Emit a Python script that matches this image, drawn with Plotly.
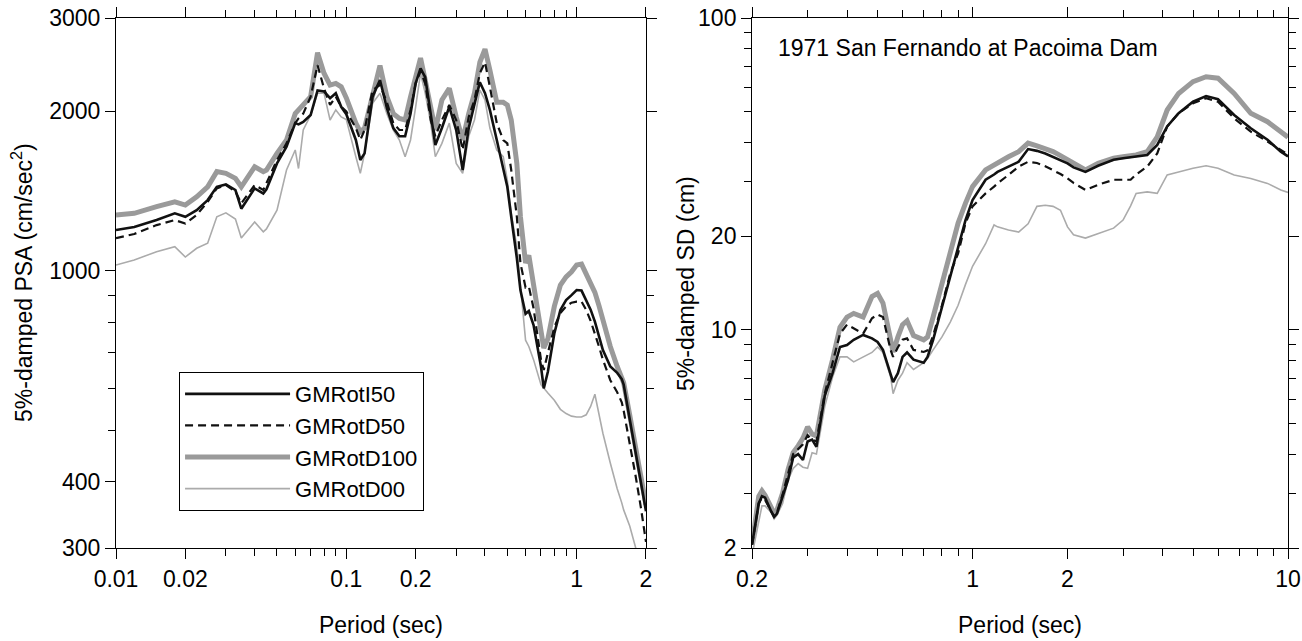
import math
import plotly.graph_objects as go

# ---- left panel: 5%-damped PSA (cm/sec^2) ----
psa_period = [0.01, 0.012, 0.015, 0.018, 0.02, 0.0224, 0.025, 0.0274, 0.03, 0.033,
              0.035, 0.04, 0.0436, 0.045, 0.05, 0.055, 0.06, 0.062, 0.065, 0.07,
              0.075, 0.08, 0.085, 0.09, 0.095, 0.1, 0.11, 0.115, 0.12, 0.13,
              0.14, 0.15, 0.16, 0.17, 0.18, 0.19, 0.2, 0.21, 0.22, 0.2325,
              0.2435, 0.26, 0.28, 0.3, 0.32, 0.34, 0.36, 0.38, 0.4, 0.42,
              0.45, 0.48, 0.5, 0.52, 0.55, 0.57, 0.6, 0.62, 0.65, 0.7,
              0.72, 0.75, 0.8, 0.85, 0.9, 0.95, 1.0, 1.05, 1.1, 1.15,
              1.2, 1.25, 1.3, 1.4, 1.5, 1.57, 1.6, 1.7, 1.8, 1.9,
              2.0]

psa_rotI50 = [1194, 1210, 1247, 1284, 1265, 1302, 1360, 1441, 1456, 1421,
              1310, 1431, 1400, 1425, 1595, 1715, 1900, 1890, 1910, 1968,
              2190, 2180, 2117, 2164, 2040, 1975, 1766, 1619, 1666, 2131,
              2291, 2027, 1860, 1795, 1795, 1980, 2258, 2410, 2320, 1952,
              1728, 1860, 2040, 1844, 1550, 1860, 2071, 2270, 2164, 2012,
              1766, 1550, 1441, 1265, 1057, 920, 830, 840, 790, 660,
              600, 645, 762, 844, 881, 900, 920, 918, 881, 845,
              802, 755, 709, 660, 642, 625, 610, 525, 456, 403,
              352]

psa_rotD50 = [1153, 1174, 1220, 1247, 1228, 1275, 1350, 1431, 1452, 1412,
              1341, 1452, 1421, 1463, 1619, 1740, 1900, 1940, 1980, 2131,
              2446, 2210, 2056, 2131, 2040, 2000, 1860, 1766, 1844, 2194,
              2242, 2080, 1900, 1844, 1844, 2012, 2258, 2380, 2258, 1926,
              1795, 1926, 2056, 1926, 1691, 1952, 2101, 2360, 2475, 2225,
              1900, 1766, 1740, 1550, 1265, 1035, 930, 935, 850, 680,
              650, 700, 783, 833, 857, 871, 875, 875, 844, 805,
              762, 720, 680, 622, 590, 565, 545, 475, 412, 358,
              308]

psa_rotD100 = [1275, 1284, 1322, 1350, 1331, 1380, 1441, 1539, 1528, 1495,
               1441, 1572, 1539, 1550, 1666, 1766, 1980, 2012, 2056, 2131,
               2580, 2360, 2242, 2258, 2225, 2120, 1900, 1830, 1860, 2131,
               2440, 2131, 1980, 1939, 1926, 2131, 2320, 2520, 2291, 2012,
               1844, 2101, 2210, 1952, 1766, 1980, 2164, 2475, 2620, 2393,
               2080, 2080, 2056, 1926, 1595, 1265, 1035, 1070, 950, 770,
               715, 745, 857, 940, 974, 996, 1026, 1030, 985, 950,
               911, 860, 808, 720, 660, 632, 615, 535, 465, 410,
               362]

psa_rotD00 = [1026, 1048, 1087, 1111, 1062, 1103, 1128, 1265, 1287, 1253,
              1153, 1237, 1185, 1200, 1302, 1550, 1691, 1560, 1844, 1968,
              2164, 2164, 1926, 2012, 1952, 1930, 1642, 1528, 1666, 2071,
              2164, 1980, 1844, 1766, 1642, 1766, 2040, 2360, 2164, 1900,
              1642, 1740, 1900, 1595, 1528, 1795, 1926, 2194, 2101, 1860,
              1691, 1642, 1484, 1284, 1111, 950, 740, 720, 680, 610,
              600, 588, 570, 548, 538, 532, 530, 530, 535, 555,
              585, 540, 494, 434, 388, 365, 354, 330, 300, 275,
              255]

# ---- right panel: 5%-damped SD (cm) ----
sd_period = [0.2, 0.21, 0.215, 0.22, 0.23, 0.235, 0.24, 0.25, 0.26, 0.27,
             0.28, 0.29, 0.3, 0.31, 0.32, 0.34, 0.36, 0.38, 0.4, 0.42,
             0.45, 0.48, 0.5, 0.52, 0.55, 0.56, 0.58, 0.6, 0.62, 0.65,
             0.7, 0.72, 0.75, 0.8, 0.85, 0.9, 0.95, 1.0, 1.1, 1.17,
             1.2, 1.3, 1.4, 1.5, 1.6, 1.7, 1.8, 1.9, 2.0, 2.09,
             2.28, 2.5, 2.8, 3.0, 3.17, 3.3, 3.58, 3.85, 4.14, 4.5,
             5.0, 5.5, 6.0, 6.75, 7.62, 8.61, 9.49, 10.0]

sd_rotI50 = [2.05, 2.78, 2.93, 2.9, 2.62, 2.52, 2.58, 2.93, 3.3, 3.9,
             4.0, 3.83, 4.39, 4.45, 4.22, 6.15, 7.27, 8.82, 8.95, 9.3,
             9.64, 9.4, 9.15, 8.63, 7.27, 6.8, 7.27, 8.2, 8.47, 8.03,
             7.85, 8.2, 9.3, 11.8, 15.0, 18.5, 22.5, 26.1, 30.3, 31.5,
             32.1, 33.4, 34.6, 38.0, 37.5, 36.8, 35.9, 35.0, 34.2, 33.2,
             32.1, 33.6, 35.1, 35.5, 35.8, 35.9, 36.4, 39.2, 44.9, 49.5,
             53.9, 56.2, 54.9, 48.9, 44.3, 40.7, 37.3, 36.0]

sd_rotD50 = [2.05, 2.78, 2.9, 2.85, 2.62, 2.52, 2.6, 2.97, 3.45, 4.0,
             4.15, 4.3, 4.6, 4.45, 4.39, 6.25, 7.85, 9.73, 10.4, 10.1,
             9.73, 10.9, 11.2, 11.0, 8.63, 8.2, 8.8, 9.3, 9.4, 8.63,
             8.5, 8.6, 9.6, 12.0, 15.2, 17.6, 22.0, 24.9, 27.4, 28.8,
             29.5, 31.4, 33.4, 34.6, 34.3, 33.5, 32.6, 31.6, 30.6, 29.6,
             28.1, 29.2, 30.3, 30.3, 30.3, 31.5, 33.4, 36.8, 44.9, 49.5,
             53.3, 55.3, 53.9, 47.7, 43.2, 40.2, 37.8, 36.5]

sd_rotD100 = [2.05, 2.93, 3.05, 2.95, 2.7, 2.58, 2.65, 3.0, 3.56, 4.04,
              4.25, 4.5, 4.89, 4.64, 4.57, 6.42, 8.03, 10.2, 11.0, 11.3,
              11.0, 12.8, 13.1, 12.2, 9.3, 8.5, 9.5, 10.4, 10.7, 9.6,
              9.3, 9.5, 11.0, 14.0, 18.0, 22.0, 25.5, 28.8, 32.6, 33.8,
              34.6, 35.9, 37.3, 39.7, 38.9, 38.2, 37.3, 36.2, 35.1, 34.0,
              32.6, 34.2, 35.5, 35.9, 36.2, 36.4, 37.3, 41.6, 50.7, 57.3,
              62.5, 64.8, 64.1, 57.3, 49.5, 46.5, 43.2, 41.5]

sd_rotD00 = [1.9, 2.4, 2.73, 2.73, 2.6, 2.48, 2.55, 2.78, 3.3, 3.6,
             3.73, 3.63, 3.6, 4.04, 4.0, 5.68, 7.07, 8.2, 8.2, 7.9,
             8.2, 8.47, 8.82, 8.47, 7.07, 6.25, 6.9, 7.27, 7.85, 7.47,
             7.85, 8.1, 8.63, 9.5, 10.6, 12.0, 14.0, 16.0, 18.9, 21.7,
             21.4, 20.9, 20.6, 21.9, 24.9, 25.1, 24.9, 24.2, 21.4, 20.2,
             19.7, 20.4, 21.2, 22.5, 25.0, 27.4, 27.7, 27.4, 31.4, 32.1,
             33.0, 33.6, 33.0, 31.4, 30.6, 29.5, 28.1, 27.6]

# tick values
psa_xticks = [0.01, 0.02, 0.1, 0.2, 1, 2]
psa_xminor = [0.03, 0.04, 0.05, 0.06, 0.07, 0.08, 0.09, 0.3, 0.4, 0.5, 0.6, 0.7, 0.8, 0.9]
psa_yticks = [300, 400, 1000, 2000, 3000]
psa_yminor = [500, 600, 700, 800, 900]
sd_xticks = [0.2, 1, 2, 10]
sd_xminor = [0.3, 0.4, 0.5, 0.6, 0.7, 0.8, 0.9, 3, 4, 5, 6, 7, 8, 9]
sd_yticks = [2, 10, 20, 100]
sd_yminor = [3, 4, 5, 6, 7, 8, 9, 30, 40, 50, 60, 70, 80, 90]

FONT = "Liberation Sans, Arial, Helvetica, sans-serif"

# drawing order: thick grey at the back, dashed on top
series = [
    ("GMRotD100", psa_rotD100, sd_rotD100, dict(color="#9a9a9a", width=5), 3),
    ("GMRotD00", psa_rotD00, sd_rotD00, dict(color="#ababab", width=1.6), 4),
    ("GMRotI50", psa_rotI50, sd_rotI50, dict(color="#111111", width=2.6), 1),
    ("GMRotD50", psa_rotD50, sd_rotD50, dict(color="#111111", width=2.2, dash="8px,5px"), 2),
]

fig = go.Figure()
for name, psa, sd, line, rank in series:
    fig.add_trace(go.Scatter(x=psa_period, y=psa, mode="lines", name=name, line=line,
                             legendrank=rank, xaxis="x", yaxis="y"))
    fig.add_trace(go.Scatter(x=sd_period, y=sd, mode="lines", name=name, line=line,
                             showlegend=False, xaxis="x2", yaxis="y2"))


def log_axis(lo, hi, major, minor, **kw):
    ax = dict(type="log", range=[math.log10(lo), math.log10(hi)], automargin=False,
              tickmode="array", tickvals=major, ticktext=[f"{v:g}" for v in major],
              ticks="outside", ticklen=10, tickwidth=1, tickcolor="black",
              showline=True, linecolor="black", linewidth=1, mirror="ticks",
              showgrid=False, zeroline=False,
              tickfont=dict(size=23, color="black", family=FONT),
              minor=dict(tickmode="array", tickvals=minor, ticks="outside",
                         ticklen=7, tickwidth=1, tickcolor="black", showgrid=False))
    ax.update(kw)
    return ax


xtitle = dict(text="Period (sec)", font=dict(size=23, color="black", family=FONT), standoff=26)
title_font = dict(size=23, color="black", family=FONT)

fig.update_layout(
    width=1302, height=641,
    margin=dict(l=116, r=14, t=18, b=93, autoexpand=False),
    paper_bgcolor="white", plot_bgcolor="white",
    font=dict(family=FONT, size=23, color="black"),
    xaxis=log_axis(0.01, 2, psa_xticks, psa_xminor, domain=[0, 0.4522], anchor="y", title=xtitle),
    yaxis=log_axis(300, 3000, psa_yticks, psa_yminor, domain=[0, 1], anchor="x"),
    xaxis2=log_axis(0.2, 10, sd_xticks, sd_xminor, domain=[0.5427, 1], anchor="y2", title=xtitle),
    yaxis2=log_axis(2, 100, sd_yticks, sd_yminor, domain=[0, 1], anchor="x2"),
    legend=dict(x=0.0538, y=0.332, xanchor="left", yanchor="top",
                bordercolor="black", borderwidth=1, bgcolor="white",
                font=dict(size=22, color="black", family=FONT),
                itemwidth=105, entrywidth=240, tracegroupgap=0),
    showlegend=True,
    annotations=[
        dict(text="1971 San Fernando at Pacoima Dam", xref="x2 domain", yref="y2 domain",
             x=0.045, y=0.943, xanchor="left", yanchor="middle", showarrow=False, font=title_font),
        # y-axis titles
        dict(text="5%-damped PSA (cm/sec<sup>2</sup>)", xref="paper", yref="paper",
             x=-0.0802, y=0.5, xanchor="center", yanchor="middle", textangle=-90,
             showarrow=False, font=title_font),
        dict(text="5%-damped SD (cm)", xref="paper", yref="paper",
             x=0.4863, y=0.5, xanchor="center", yanchor="middle", textangle=-90,
             showarrow=False, font=title_font),
    ],
)

# drop the browser's default 8px body margin so the figure sits at the page origin
fig.write_html("out.html", config={"displayModeBar": False},
               post_script="document.body.style.margin='0px';")
